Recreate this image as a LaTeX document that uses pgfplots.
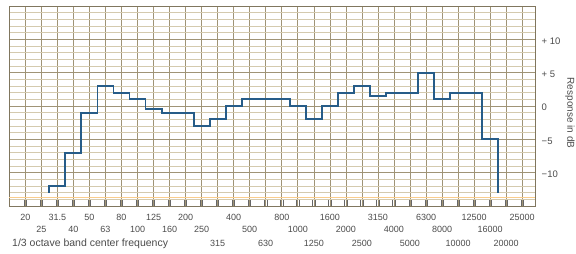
\documentclass[border=0pt]{standalone}
\usepackage{fontspec}
\setmainfont{Liberation Sans}
\usepackage{pgfplots}
\pgfplotsset{compat=1.18}
\definecolor{gridminor}{RGB}{212,202,174}
\definecolor{gridmajor}{RGB}{160,148,118}
\definecolor{curve}{RGB}{38,92,136}
\definecolor{orangeline}{RGB}{250,205,140}
\definecolor{txt}{RGB}{75,75,75}
\newcommand\R[1]{\smash{\raisebox{-12.6pt}{#1}}}
\newcommand\RR[1]{\smash{\raisebox{-26.6pt}{#1}}}
\begin{document}
\begin{tikzpicture}
\useasboundingbox (-9.3pt,-48pt) rectangle (566.7pt,206pt);
\begin{axis}[
  at={(0,0)}, anchor=south west,
  scale only axis, width=525.7pt, height=200pt,
  xmin=-1, xmax=31.8, ymin=-15, ymax=15,
  xtick={0,...,31},
  xticklabels={20,\R{25},31.5,\R{40},50,\R{63},80,\R{100},125,\R{160},200,\R{250},\RR{315},400,\R{500},\RR{630},800,\R{1000},\RR{1250},1600,\R{2000},\RR{2500},3150,\R{4000},\RR{5000},6300,\R{8000},\RR{10000},12500,\R{16000},\RR{20000},25000},
  ytick={-10,-5,0,5,10},
  yticklabels={−10,−5,0,+ 5,+ 10},
  minor ytick={-15,...,15},
  yticklabel pos=right,
  xtick pos=bottom,
  grid=both,
  major grid style={gridmajor, line width=0.6pt},
  minor grid style={gridminor, line width=0.45pt},
  axis line style={gridmajor!80!black, line width=0.7pt},
  major tick length=0pt,
  minor tick length=0pt,
  xticklabel style={font=\fontsize{9}{10}\selectfont, text=txt, inner sep=0pt, text height=6.5pt, text depth=0pt, anchor=north, yshift=-7.5pt},
  yticklabel style={font=\fontsize{9.5}{10}\selectfont, text=txt, inner sep=0pt, anchor=west, xshift=6.5pt, yshift=-1.5pt},
  extra x ticks={-0.07,0.93,...,30.93,0.07,1.07,...,31.07},
  extra x tick labels={},
  extra x tick style={grid=none, major tick length=6pt, tick style={draw=black!60, line width=0.7pt}},
  extra y ticks={-13.7},
  extra y tick labels={},
  extra y tick style={grid=major, major grid style={orangeline, line width=1.6pt}},
  clip=false,
]
\addplot[const plot mark left, curve, line width=1.9pt] coordinates {
  (1.5,-13) (1.5,-12) (2.5,-7) (3.5,-1) (4.5,3) (5.5,2) (6.5,1) (7.5,-0.5)
  (8.5,-1) (10.5,-3) (11.5,-2) (12.5,0) (13.5,1) (16.5,0) (17.5,-2) (18.5,0)
  (19.5,2) (20.5,3) (21.5,1.5) (22.5,2) (24.5,5) (25.5,1) (26.5,2) (28.5,-5)
  (29.5,-13.1)
};
\node[anchor=base west, inner sep=0pt, text=txt, font=\fontsize{10.5}{12}\selectfont]
  at ([xshift=2.7pt, yshift=-40.6pt]rel axis cs:0,0) {1/3 octave band center frequency};
\node[rotate=-90, inner sep=0pt, text=txt, font=\fontsize{10}{12}\selectfont]
  at ([xshift=35pt, yshift=-7pt]rel axis cs:1,0.5) {Response in dB};
\end{axis}
\end{tikzpicture}
\end{document}
